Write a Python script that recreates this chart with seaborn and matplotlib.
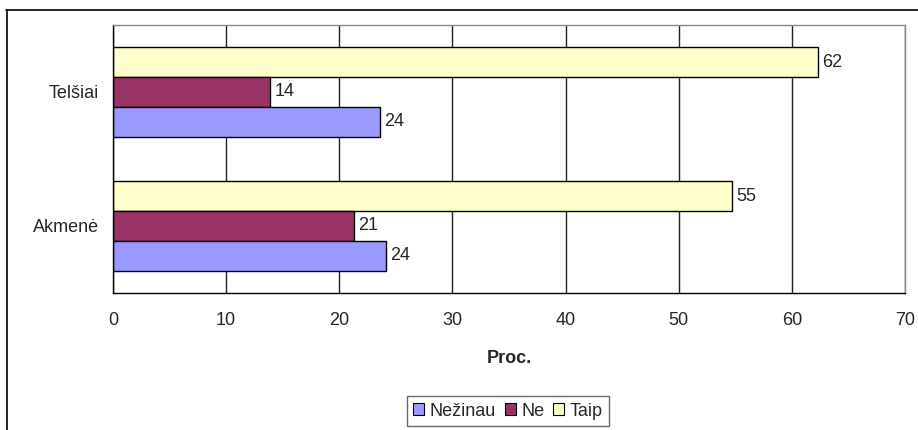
import seaborn as sns
import numpy as np
import matplotlib.pyplot as plt
import pandas as pd
from matplotlib.patches import Patch
from matplotlib.lines import Line2D

# miestai (iš viršaus į apačią)
cities = ["Telšiai", "Akmenė"]
# atsakymai
answers = ["Taip", "Ne", "Nežinau"]
taip = [62.3, 54.7]
ne = [13.9, 21.3]
nezinau = [23.6, 24.1]
colors = {"Nežinau": "#9999FF", "Ne": "#993366", "Taip": "#FFFFCC"}

df = pd.DataFrame({
    "city": cities * 3,
    "answer": ["Taip"] * 2 + ["Ne"] * 2 + ["Nežinau"] * 2,
    "value": taip + ne + nezinau,
})

sns.set_theme(style="white")
plt.rcParams["font.family"] = ["Liberation Sans", "DejaVu Sans"]
fs = 13

fig = plt.figure(figsize=(9.18, 4.3), dpi=100)
ax = fig.add_axes([113 / 918, 1 - 293 / 430, (905 - 113) / 918, (293 - 25) / 430])

sns.barplot(data=df, y="city", x="value", hue="answer", order=cities,
            hue_order=answers, palette=colors, orient="h", width=0.67,
            edgecolor="black", linewidth=1, saturation=1, legend=False, ax=ax)

for c in ax.containers:
    ax.bar_label(c, fmt="%.0f", padding=3, fontsize=fs)

ax.set_xlim(0, 70)
ax.set_ylim(1.5, -0.5)
ax.set_xticks(np.arange(0, 71, 10))
ax.xaxis.grid(True, color="#222222", linewidth=1)
ax.set_axisbelow(True)
ax.set_yticks([0, 1])
ax.set_yticks([-0.5, 0.5, 1.5], minor=True)
ax.tick_params(axis="y", which="major", length=0, pad=10, labelsize=fs)
ax.tick_params(axis="y", which="minor", length=5, width=1, color="black", direction="out")
ax.tick_params(axis="x", length=5, width=1, color="black", direction="out", labelsize=fs, pad=9)
ax.set_ylabel("")
ax.set_xlabel("Proc.", fontweight="bold", fontsize=fs, labelpad=15)

for s in ["left", "bottom"]:
    ax.spines[s].set_color("black")
    ax.spines[s].set_linewidth(1)
for s in ["top", "right"]:
    ax.spines[s].set_color("#888888")
    ax.spines[s].set_linewidth(1)

handles = [Patch(facecolor=colors[a], edgecolor="black", linewidth=0.8) for a in ["Nežinau", "Ne", "Taip"]]
leg = fig.legend(handles, ["Nežinau", "Ne", "Taip"], loc="center", bbox_to_anchor=(508 / 918, 1 - 411 / 430),
                 ncol=3, frameon=True, fontsize=fs, handlelength=0.6, handleheight=0.6,
                 handletextpad=0.3, columnspacing=0.5, borderpad=0.35, fancybox=False)
leg.get_frame().set_edgecolor("#444444")
leg.get_frame().set_linewidth(1)

# rėmelis aplink paveikslą
fig.add_artist(Line2D([6 / 918, 1], [1 - 9.5 / 430, 1 - 9.5 / 430], color="black", linewidth=1.2))
fig.add_artist(Line2D([6.5 / 918, 6.5 / 918], [0, 1 - 9.5 / 430], color="black", linewidth=1.2))

fig.savefig("out.png", dpi=100)
